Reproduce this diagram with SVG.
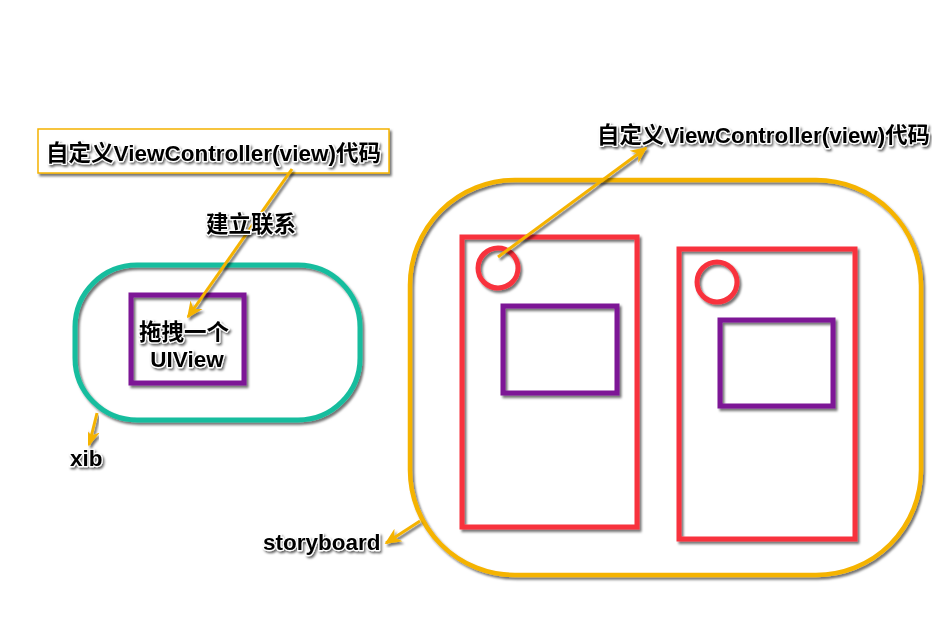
<svg xmlns="http://www.w3.org/2000/svg" width="932" height="621" viewBox="0 0 932 621">
  <defs>
    <filter id="sh" x="-10%" y="-10%" width="130%" height="130%">
      <feDropShadow dx="2" dy="2.5" stdDeviation="1.2" flood-color="#000" flood-opacity="0.55"/>
    </filter>
    <filter id="tsh" x="-10%" y="-20%" width="130%" height="150%">
      <feDropShadow dx="1.5" dy="2" stdDeviation="1" flood-color="#000" flood-opacity="0.6"/>
    </filter>
    <marker id="ah" viewBox="0 0 10 10" refX="9" refY="5" markerWidth="5.5" markerHeight="5.5" orient="auto" markerUnits="strokeWidth">
      <path d="M0,0.5 L10,5 L0,9.5 L3,5 Z" fill="#f5b300"/>
    </marker>
  </defs>
  <style>
    .t { font-family: "Liberation Sans", Arial, "Noto Sans CJK SC", sans-serif; font-weight: bold; font-size: 22.5px; fill: #000; stroke: #fff; stroke-width: 2.5px; paint-order: stroke; stroke-linejoin: round; filter: url(#tsh); }
    .red { fill: none; stroke: #f8333e; stroke-width: 5; filter: url(#sh); }
    .pur { fill: none; stroke: #7d1596; stroke-width: 5; filter: url(#sh); }
    .con { fill: none; stroke: #f5b300; stroke-width: 3; marker-end: url(#ah); filter: url(#sh); }
  </style>
  <rect width="932" height="621" fill="#fff"/>

  <g id="code-box">
    <rect x="38" y="129" width="351" height="44" fill="#fff" stroke="#f5b300" stroke-width="1.5" filter="url(#sh)"/>
    <text class="t" x="46" y="161" textLength="335" lengthAdjust="spacingAndGlyphs">自定义ViewController(view)代码</text>
  </g>

  <g id="xib">
    <rect x="75" y="265" width="285" height="155" rx="62" ry="62" fill="none" stroke="#19bd9e" stroke-width="5" filter="url(#sh)"/>
  </g>

  <g id="uiview">
    <rect class="pur" x="131" y="295" width="113" height="88"/>
    <text class="t" x="184" y="340" text-anchor="middle">拖拽一个</text>
    <text class="t" x="187" y="367" text-anchor="middle">UIView</text>
  </g>

  <g id="xib-label">
    <text class="t" x="70" y="466">xib</text>
  </g>

  <g id="storyboard">
    <rect x="410" y="180" width="511" height="395" rx="105" ry="105" fill="none" stroke="#f5b300" stroke-width="4.5" filter="url(#sh)"/>
  </g>

  <g id="scene1">
    <rect class="red" x="462" y="237" width="175" height="290"/>
    <circle class="red" cx="498" cy="268" r="20"/>
    <rect class="pur" x="503" y="306" width="114" height="87"/>
  </g>

  <g id="scene2">
    <rect class="red" x="679" y="249" width="176" height="290"/>
    <circle class="red" cx="717" cy="282" r="20"/>
    <rect class="pur" x="720" y="320" width="113" height="86"/>
  </g>

  <g id="code-label-right">
    <text class="t" x="597" y="143" textLength="333" lengthAdjust="spacingAndGlyphs">自定义ViewController(view)代码</text>
  </g>

  <g id="storyboard-label">
    <text class="t" x="263" y="550">storyboard</text>
  </g>

  <g id="connectors">
    <line class="con" x1="292" y1="169" x2="188" y2="317"/>
    <text class="t" x="251" y="232" text-anchor="middle">建立联系</text>
    <line class="con" x1="498" y1="257" x2="646" y2="148"/>
    <line class="con" x1="97" y1="413" x2="89" y2="445"/>
    <line class="con" x1="420" y1="521" x2="386" y2="543"/>
  </g>
</svg>
